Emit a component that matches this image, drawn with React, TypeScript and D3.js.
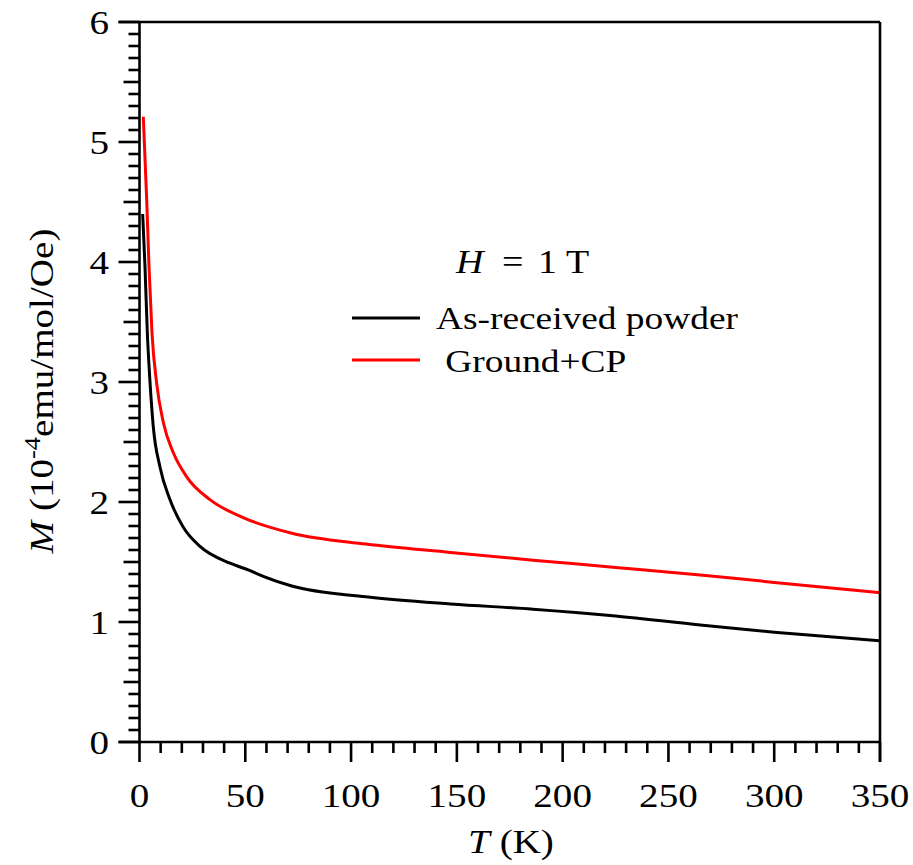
import React from "react";
import * as d3 from "d3";

const tempBlack = [1.5, 2.6, 3.7, 5.0, 6.5, 9.7, 14.4, 20.7, 28.6, 42.8, 52, 58.5, 72, 107, 147, 186, 225, 265, 300, 350];
const magBlack = [4.40, 3.96, 3.41, 2.99, 2.63, 2.29, 2.02, 1.79, 1.63, 1.49, 1.43, 1.38, 1.30, 1.21, 1.15, 1.107, 1.05, 0.975, 0.915, 0.843];
const tempRed = [1.8, 3.4, 4.5, 5.9, 8.1, 11.3, 16, 22.3, 33.3, 49, 72, 107, 147, 186, 225, 265, 300, 350];
const magRed = [5.21, 4.52, 3.96, 3.41, 2.99, 2.66, 2.41, 2.21, 2.02, 1.87, 1.74, 1.65, 1.58, 1.515, 1.455, 1.392, 1.33, 1.244];

const xTicks = [0, 50, 100, 150, 200, 250, 300, 350];
const yTicks = [0, 1, 2, 3, 4, 5, 6];
const seriesNames = ["As-received powder", " Ground+CP"];
const seriesColors = ["#000000", "#ff0000"];

const FONT = '"Liberation Serif", "Times New Roman", Tinos, "DejaVu Serif", serif';
const SX = 1.15;

function SText(props: {
  x: number;
  y: number;
  size: number;
  anchor?: string;
  rotate?: number;
  children: React.ReactNode;
  sx?: number;
}) {
  const { x, y, size, anchor = "start", rotate = 0, children, sx = SX } = props;
  return (
    <text
      transform={`translate(${x},${y}) rotate(${rotate}) scale(${sx},1)`}
      fontSize={size}
      textAnchor={anchor}
      style={{ fontFamily: FONT, whiteSpace: "pre" }}
    >
      {children}
    </text>
  );
}

export default function App() {
  const W = 913, H = 865;
  const x = d3.scaleLinear().domain([0, 350]).range([139.5, 880]);
  const y = d3.scaleLinear().domain([0, 6]).range([742, 22]);
  const line = d3
    .line<[number, number]>()
    .x((d) => x(d[0]))
    .y((d) => y(d[1]))
    .curve(d3.curveMonotoneX);
  const blackPts = tempBlack.map((t, i) => [t, magBlack[i]] as [number, number]);
  const redPts = tempRed.map((t, i) => [t, magRed[i]] as [number, number]);

  const xMinor = d3.range(0, 351, 10).filter((v) => v % 50 !== 0);
  const yMinor = d3.range(0, 61, 1).map((v) => v / 10);

  const x0 = x(0), y0 = y(0);
  const sw = 2.6;

  return (
    <svg
      width={W}
      height={H}
      style={{ position: "absolute", left: 0, top: 0, background: "#fff", fontFamily: FONT }}
    >
      <rect x={0} y={0} width={W} height={H} fill="#fff" />
      <path d={line(blackPts) || ""} fill="none" stroke={seriesColors[0]} strokeWidth={3} />
      <path d={line(redPts) || ""} fill="none" stroke={seriesColors[1]} strokeWidth={3} />

      <line x1={x0} x2={x0} y1={y(6)} y2={y0} stroke="#000" strokeWidth={sw} />
      <line x1={x0 - 21} x2={x(350)} y1={y0} y2={y0} stroke="#000" strokeWidth={sw} />
      <line x1={x0 - 21} x2={x(350)} y1={y(6)} y2={y(6)} stroke="#000" strokeWidth={sw} />
      <line x1={x(350)} x2={x(350)} y1={y(6)} y2={y0 + 20} stroke="#000" strokeWidth={sw} />

      {xTicks.map((t) => (
        <g key={"xt" + t}>
          <line x1={x(t)} x2={x(t)} y1={y0} y2={y0 + 20} stroke="#000" strokeWidth={sw} />
          <SText x={x(t)} y={807} size={34} anchor="middle">
            {String(t)}
          </SText>
        </g>
      ))}
      {xMinor.map((t) => (
        <line key={"xm" + t} x1={x(t)} x2={x(t)} y1={y0} y2={y0 + 11} stroke="#000" strokeWidth={sw} />
      ))}

      {yMinor.map((v, i) => {
        const len = i % 10 === 0 ? 21 : i % 5 === 0 ? 16 : 11;
        return <line key={"ym" + i} x1={x0 - len} x2={x0} y1={y(v)} y2={y(v)} stroke="#000" strokeWidth={sw} />;
      })}
      {yTicks.map((t) => (
        <SText key={"yt" + t} x={109} y={y(t) + 11.5} size={34} anchor="end">
          {String(t)}
        </SText>
      ))}

      <SText x={511} y={853} size={34} anchor="middle">
        <tspan fontStyle="italic">T</tspan>
        <tspan> (K)</tspan>
      </SText>
      <SText x={53} y={391} size={34} anchor="middle" rotate={-90} sx={1.15}>
        <tspan fontStyle="italic">M</tspan>
        <tspan> (10</tspan>
        <tspan dy={-13} fontSize={23}>-4</tspan>
        <tspan dy={13}>emu/mol/Oe)</tspan>
      </SText>

      <SText x={456} y={273} size={33}>
        <tspan fontStyle="italic">H</tspan>
      </SText>
      <SText x={502} y={273} size={33}>=</SText>
      <SText x={538} y={273} size={33}>1</SText>
      <SText x={566} y={273} size={33}>T</SText>

      {seriesNames.map((n, i) => (
        <g key={n}>
          <line x1={352} x2={420} y1={318 + i * 42} y2={318 + i * 42} stroke={seriesColors[i]} strokeWidth={3} />
          <SText x={436} y={329 + i * 43} size={32.5}>
            {n}
          </SText>
        </g>
      ))}
    </svg>
  );
}
